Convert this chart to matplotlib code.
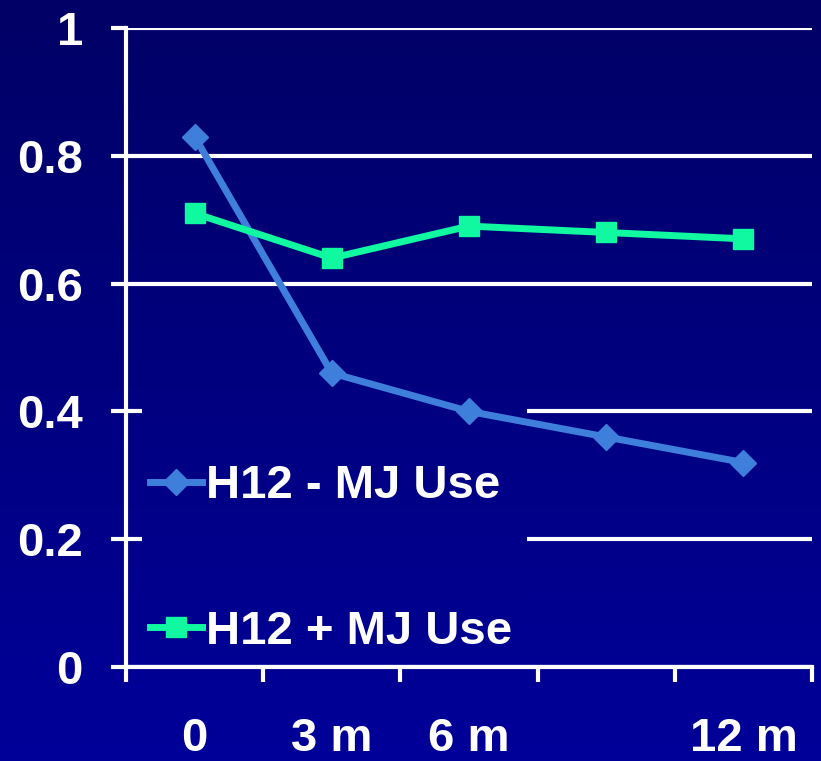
import numpy as np
import matplotlib
matplotlib.use("Agg")
import matplotlib.pyplot as plt

# Data
categories = ["0", "3 m", "6 m", "", "12 m"]
h12_minus_mj = [0.83, 0.46, 0.40, 0.36, 0.32]
h12_plus_mj = [0.71, 0.64, 0.69, 0.68, 0.67]
series_labels = ["H12 - MJ Use", "H12 + MJ Use"]
y_ticks = [0, 0.2, 0.4, 0.6, 0.8, 1]
y_tick_labels = ["0", "0.2", "0.4", "0.6", "0.8", "1"]

W, H, DPI = 821, 761, 100
plt.rcParams["font.family"] = ["Liberation Sans", "DejaVu Sans"]
plt.rcParams["font.weight"] = "bold"

fig = plt.figure(figsize=(W / DPI, H / DPI), dpi=DPI)

# Vertical navy gradient across the whole figure
top_c = np.array([0.0, 0.0, 0.40])
bot_c = np.array([0.0, 0.0, 0.60])


def gradient(t0, t1, n=256):
    t = np.linspace(t0, t1, n)[:, None]
    return (top_c[None, :] * (1 - t) + bot_c[None, :] * t)[:, None, :]


bg = fig.add_axes([0, 0, 1, 1], zorder=-10)
bg.imshow(gradient(0, 1), aspect="auto", extent=[0, 1, 0, 1], origin="upper")
bg.set_axis_off()

left, right, top, bottom = 126, 812, 28, 667
ax = fig.add_axes([left / W, (H - bottom) / H, (right - left) / W, (bottom - top) / H])
ax.patch.set_alpha(0)

x = np.arange(len(categories))
blue = "#3f7fdc"
green = "#10f8a0"
ax.plot(x, h12_minus_mj, color=blue, lw=5, marker="D", ms=13, mec=blue, mfc=blue,
        label=series_labels[0], zorder=3, solid_joinstyle="round")
ax.plot(x, h12_plus_mj, color=green, lw=5, marker="s", ms=14, mec=green, mfc=green,
        label=series_labels[1], zorder=3)

# Legend panel: same gradient as the background, hiding the grid behind it
px0, px1, py0, py1 = 142, 527, 398, 655
ax.imshow(gradient(py0 / H, py1 / H), aspect="auto", origin="upper",
          extent=[(px0 - left) / (right - left), (px1 - left) / (right - left),
                  (bottom - py1) / (bottom - top), (bottom - py0) / (bottom - top)],
          transform=ax.transAxes, zorder=1.5, interpolation="bilinear")

ax.set_xlim(-0.5, len(categories) - 0.5)
ax.set_ylim(0, 1)
ax.set_aspect("auto")
ax.set_yticks(y_ticks)
ax.set_yticklabels(y_tick_labels)
ax.set_xticks(x)
ax.set_xticklabels(categories)
ax.set_xticks(np.arange(-0.5, len(categories), 1.0), minor=True)

ax.set_axisbelow(True)
ax.grid(axis="y", color="white", lw=3)
for s in ["top", "right"]:
    ax.spines[s].set_visible(False)
for s in ["left", "bottom"]:
    ax.spines[s].set_color("white")
    ax.spines[s].set_linewidth(3)

ax.tick_params(axis="y", length=11, width=3, color="white", labelcolor="white",
               labelsize=34, pad=20)
ax.tick_params(axis="x", which="major", length=0, labelcolor="white",
               labelsize=34, pad=36)
ax.tick_params(axis="x", which="minor", length=11, width=3, color="white")

leg = ax.legend(loc="upper left", bbox_to_anchor=(0.035, 0.317), frameon=False,
                prop={"size": 34, "weight": "bold"}, handlelength=1.1,
                handletextpad=0.08, labelspacing=2.15, borderpad=0,
                borderaxespad=0)
for text in leg.get_texts():
    text.set_color("white")
leg.set_zorder(4)

fig.savefig("out.png", dpi=DPI)
